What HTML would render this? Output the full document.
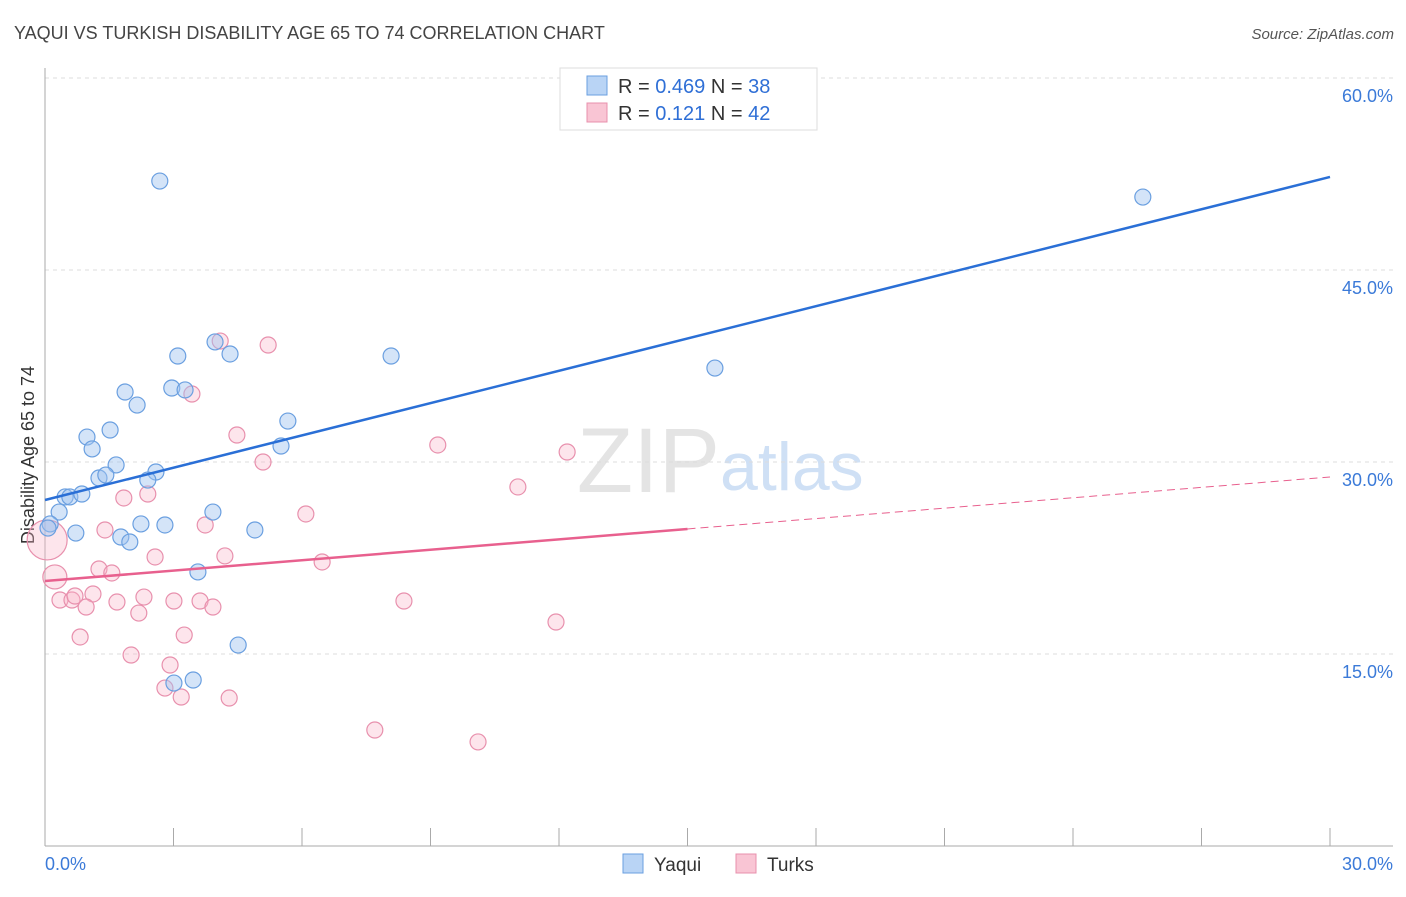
<!DOCTYPE html>
<html><head><meta charset="utf-8"><style>
body{margin:0;background:#fff;font-family:"Liberation Sans",sans-serif}
svg text{font-family:"Liberation Sans",sans-serif}
</style></head><body>
<svg id="c" width="1406" height="892">
<text x="14" y="39" font-size="18" fill="#444">YAQUI VS TURKISH DISABILITY AGE 65 TO 74 CORRELATION CHART</text>
<text x="1394" y="39" font-size="15" fill="#555" font-style="italic" text-anchor="end">Source: ZipAtlas.com</text>
<text x="720" y="492" font-size="92" fill="#e4e4e4" text-anchor="end" font-family="Liberation Serif">ZIP</text>
<text x="720" y="490" font-size="68" fill="#cfe0f5">atlas</text>
<text transform="translate(34,455) rotate(-90)" font-size="18" fill="#333" text-anchor="middle">Disability Age 65 to 74</text>
<g id="grid"></g><g id="marks"></g>
<g>
<rect x="560" y="68" width="257" height="62" fill="#fff" stroke="#ddd"/>
<rect x="587" y="76" width="20" height="19" fill="#b9d4f5" stroke="#6a9fe0"/>
<rect x="587" y="103" width="20" height="19" fill="#f9c5d4" stroke="#e890ad"/>
<text x="618" y="93" font-size="20" fill="#333">R = <tspan fill="#2f6fd6">0.469</tspan>   N = <tspan fill="#2f6fd6">38</tspan></text>
<text x="618" y="120" font-size="20" fill="#333">R =  <tspan fill="#2f6fd6">0.121</tspan>   N = <tspan fill="#2f6fd6">42</tspan></text>
</g>
<g>
<rect x="623" y="854" width="20" height="19" fill="#b9d4f5" stroke="#6a9fe0"/>
<text x="654" y="871" font-size="19" fill="#333">Yaqui</text>
<rect x="736" y="854" width="20" height="19" fill="#f9c5d4" stroke="#e890ad"/>
<text x="767" y="871" font-size="19" fill="#333">Turks</text>
</g>
</svg>
<script>
const yTicks=[15,30,45,60];
const xTickLabels=["0.0%","30.0%"];
const blueX=[2.68,25.63,3.97,3.10,4.32,8.08,15.64,2.96,3.27,1.87,2.15,5.67,1.52,0.98,1.10,5.51,1.66,2.59,1.26,1.42,2.40,0.47,0.58,0.86,0.33,3.92,0.12,2.24,2.80,0.72,4.90,1.77,1.98,3.57,4.51,3.01,3.46,0.07];
const blueY=[51.95,50.70,39.38,38.28,38.44,38.28,37.34,35.78,35.63,35.47,34.45,33.20,32.50,31.95,31.02,31.25,29.77,29.22,28.75,28.98,28.59,27.27,27.27,27.50,26.09,26.09,25.16,25.16,25.08,24.45,24.69,24.14,23.75,21.41,15.70,12.73,12.97,24.84];
const pinkX=[4.09,5.21,3.43,4.48,9.17,12.19,5.09,11.04,2.40,1.84,6.09,3.74,1.40,2.57,4.20,6.47,1.26,1.56,0.05,0.23,0.35,0.63,0.70,1.12,0.96,1.68,2.31,3.01,3.62,3.92,2.19,8.38,11.93,0.82,3.25,2.01,2.92,2.80,3.18,4.30,7.70,10.11];
const pinkY=[39.45,39.14,35.31,32.11,31.33,30.78,30.00,28.05,27.50,27.19,25.94,25.08,24.69,22.58,22.66,22.19,21.64,21.33,23.91,21.02,19.22,19.22,19.53,19.69,18.67,19.06,19.45,19.14,19.14,18.67,18.20,19.14,17.50,16.33,16.48,14.92,14.14,12.34,11.64,11.56,9.06,8.13];
const pinkR=[8,8,8,8,8,8,8,8,8,8,8,8,8,8,8,8,8,8,20,12,8,8,8,8,8,8,8,8,8,8,8,8,8,8,8,8,8,8,8,8,8,8];
const blueLine=[27.03,52.27];
const pinkLine=[20.70,24.77,28.83];
const X=v=>45+v/30*1285, Y=v=>846-v/15*192;
const NS="http://www.w3.org/2000/svg";
const grid=document.getElementById('grid'), marks=document.getElementById('marks');
function mk(tag,at,parent){const e=document.createElementNS(NS,tag);for(const k in at)e.setAttribute(k,at[k]);parent.appendChild(e);return e;}
yTicks.forEach(t=>{
 const l=mk('line',{x1:45,x2:1393,y1:Y(t),y2:Y(t),stroke:'#ddd','stroke-dasharray':'4,4'},grid);
 
 
 const tx=mk('text',{x:1393,y:Y(t)+24,'font-size':18,fill:'#3b7ad8','text-anchor':'end'},grid);
 tx.textContent=t.toFixed(1)+'%';
 
 
});
const ax=mk('line',{x1:45,x2:1393,y1:846,y2:846,stroke:'#aaa'},grid);


const ay=mk('line',{x1:45,x2:45,y1:68,y2:846,stroke:'#aaa'},grid);


for(let i=0;i<=10;i++){const tk=mk('line',{x1:X(i*3),x2:X(i*3),y1:828,y2:846,stroke:'#aaa'},grid);
 
 }
[[0,'start',45],[1,'end',1393]].forEach(([i,a,x])=>{const t=mk('text',{x:x,y:870,'font-size':18,fill:'#3b7ad8','text-anchor':a},grid);t.textContent=xTickLabels[i];
 
 });
pinkX.forEach((v,i)=>{const c=mk('circle',{cx:X(v),cy:Y(pinkY[i]),r:pinkR[i],fill:'rgba(248,180,200,0.35)',stroke:'#e890ad','stroke-width':1.2},marks);
 
 });
blueX.forEach((v,i)=>{const c=mk('circle',{cx:X(v),cy:Y(blueY[i]),r:8,fill:'rgba(160,196,240,0.45)',stroke:'#6a9fe0','stroke-width':1.2},marks);
 
 });
const bl=mk('line',{x1:X(0),y1:Y(blueLine[0]),x2:X(30),y2:Y(blueLine[1]),stroke:'#2a6fd6','stroke-width':2.5},marks);


const pl=mk('line',{x1:X(0),y1:Y(pinkLine[0]),x2:X(15),y2:Y(pinkLine[1]),stroke:'#e8608e','stroke-width':2.5},marks);


const pd=mk('line',{x1:X(15),y1:Y(pinkLine[1]),x2:X(30),y2:Y(pinkLine[2]),stroke:'#e8608e','stroke-width':1,'stroke-dasharray':'8,5'},marks);


</script>
</body></html>
